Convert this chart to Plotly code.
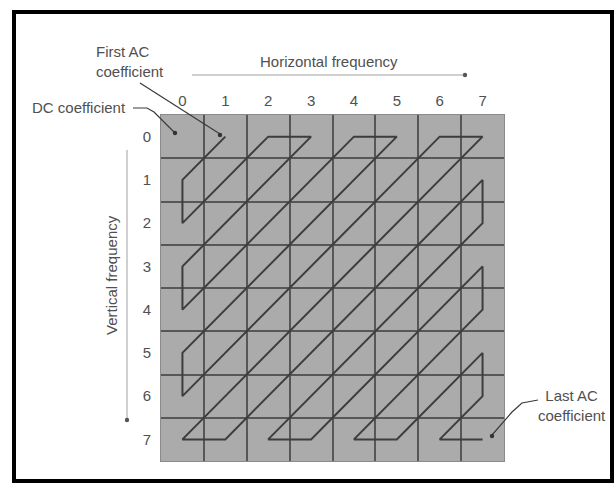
import plotly.graph_objects as go

W, H = 614, 483

# 8x8 coefficient block
col_labels = ['0', '1', '2', '3', '4', '5', '6', '7']
row_labels = ['0', '1', '2', '3', '4', '5', '6', '7']

# corner points of the zigzag scan (row, column), from first AC to last AC
zig_rows = [0, 1, 2, 0, 0, 3, 4, 0, 0, 5, 6, 0, 0, 7, 7, 1, 2, 7, 7, 3, 4, 7, 7, 5, 6, 7, 7]
zig_cols = [1, 0, 0, 2, 3, 0, 0, 4, 5, 0, 0, 6, 7, 0, 1, 7, 7, 2, 3, 7, 7, 4, 5, 7, 7, 6, 7]

colors = {'cell': '#ababab',
          'grid': '#575757',
          'path': '#3d3d3d',
          'text': '#505050',
          'arrow': '#a0a0a0'}

font = 'Liberation Sans, Arial, sans-serif'
fsize = 15


def px(x):
    return x / W


def py(y):
    return 1 - y / H


fig = go.Figure()

fig.add_trace(go.Scatter(
    x=zig_cols,
    y=zig_rows,
    mode='lines',
    line=dict(color=colors['path'], width=2),
    hoverinfo='skip',
    showlegend=False
))

fig.update_xaxes(
    domain=[px(161), px(504)],
    range=[-0.5, 7.5],
    side='top',
    tickmode='array',
    tickvals=list(range(len(col_labels))),
    ticktext=col_labels,
    ticks='outside', ticklen=2, tickcolor='rgba(0,0,0,0)',
    tickfont=dict(size=fsize, color=colors['text'], family=font),
    showgrid=False, zeroline=False,
    minor=dict(tick0=0.5, dtick=1, showgrid=True, gridcolor=colors['grid'], gridwidth=2, ticks=''),
    showline=True, mirror=True, linecolor='#8a8a8a', linewidth=1,
    fixedrange=True
)

fig.update_yaxes(
    domain=[py(461), py(115)],
    range=[7.5, -0.5],
    tickmode='array',
    tickvals=list(range(len(row_labels))),
    ticktext=row_labels,
    ticks='outside', ticklen=6, tickcolor='rgba(0,0,0,0)',
    tickfont=dict(size=fsize, color=colors['text'], family=font),
    showgrid=False, zeroline=False,
    minor=dict(tick0=0.5, dtick=1, showgrid=True, gridcolor=colors['grid'], gridwidth=2, ticks=''),
    showline=True, mirror=True, linecolor='#8a8a8a', linewidth=1,
    fixedrange=True
)

shapes = []

# outer frame
shapes.append(dict(type='rect', xref='paper', yref='paper',
                   x0=px(14), y0=py(12), x1=px(612), y1=py(481),
                   line=dict(color='black', width=4)))

# frequency arrows
shapes.append(dict(type='line', xref='paper', yref='paper',
                   x0=px(192), y0=py(75), x1=px(463), y1=py(75),
                   line=dict(color=colors['arrow'], width=1)))
shapes.append(dict(type='line', xref='paper', yref='paper',
                   x0=px(127), y0=py(150), x1=px(127), y1=py(418),
                   line=dict(color=colors['arrow'], width=1)))


def dot(x, y, r=2.2, color='#333333'):
    return dict(type='circle', xref='paper', yref='paper',
                x0=px(x - r), y0=py(y - r), x1=px(x + r), y1=py(y + r),
                fillcolor=color, line=dict(color=color, width=0))


def leader(points):
    d = 'M ' + ' L '.join('{:.5f},{:.5f}'.format(px(x), py(y)) for x, y in points)
    return dict(type='path', xref='paper', yref='paper', path=d,
                line=dict(color='#3a3a3a', width=1.2))


shapes.append(dot(465, 75, 2.2, '#555555'))
shapes.append(dot(127, 420, 2.2, '#555555'))

# leaders to DC, first AC and last AC coefficients
shapes.append(leader([(133, 108), (147, 108), (154, 112), (175, 133)]))
shapes.append(leader([(140, 83), (220, 134)]))
shapes.append(leader([(492, 435), (512, 412), (522, 403), (538, 400)]))
shapes.append(dot(175, 133))
shapes.append(dot(220, 135))
shapes.append(dot(492, 436))

fig.update_layout(shapes=shapes)

annotations = [
    dict(text='Horizontal frequency', x=px(329), y=py(62)),
    dict(text='Vertical frequency', x=px(111), y=py(275), textangle=-90),
    dict(text='First AC<br>coefficient', x=px(94), y=py(62), xanchor='left', align='left'),
    dict(text='DC coefficient', x=px(30), y=py(108), xanchor='left'),
    dict(text='Last AC<br>coefficient', x=px(572), y=py(405), align='center'),
]
for a in annotations:
    a.setdefault('xanchor', 'center')
    fig.add_annotation(xref='paper', yref='paper', yanchor='middle', showarrow=False,
                       font=dict(size=fsize, color=colors['text'], family=font), **a)

fig.update_layout(
    width=W, height=H,
    autosize=False,
    margin=dict(l=0, r=0, t=0, b=0),
    paper_bgcolor='white',
    plot_bgcolor=colors['cell'],
    showlegend=False
)

# page margin would push the figure off the window
fig.write_html("out.html", config={'displayModeBar': False},
               post_script="document.body.style.margin='0';document.body.style.overflow='hidden';")
